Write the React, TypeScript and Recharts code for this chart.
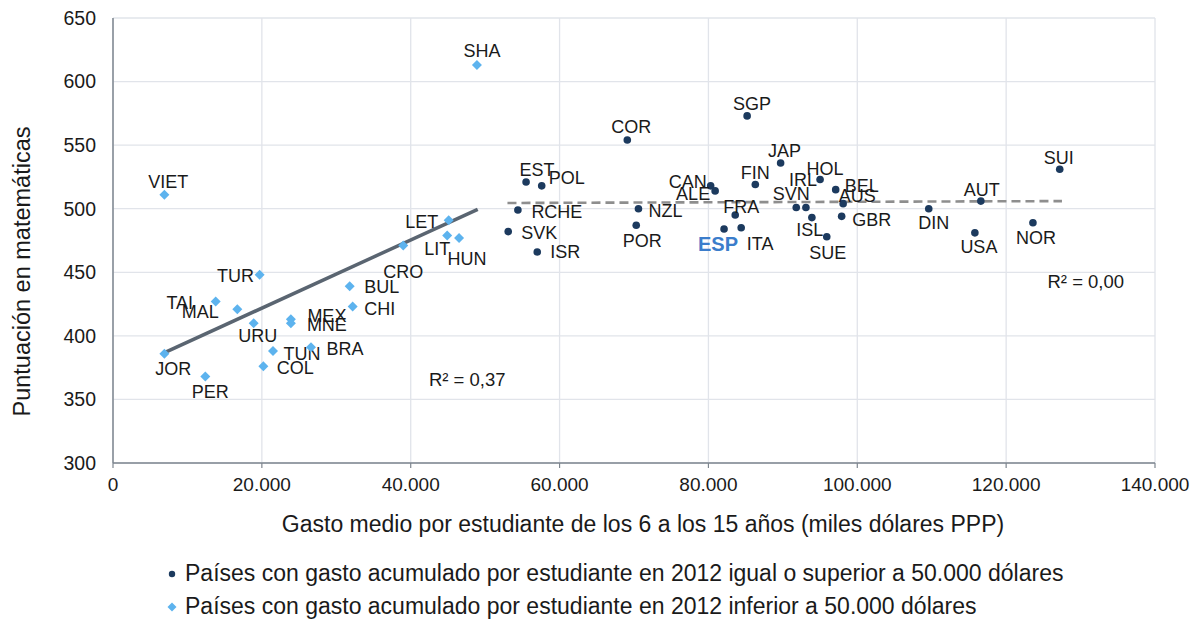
import React from "react";
import {
  ScatterChart, Scatter, XAxis, YAxis, CartesianGrid, ReferenceLine, ReferenceDot,
} from "recharts";

// countries with cumulative spend >= 50.000 $ (navy dots)
const HIGH_NAMES = [
  "COR", "SGP", "EST", "POL", "RCHE", "SVK", "ISR", "NZL", "POR", "CAN", "ALE", "FIN",
  "JAP", "HOL", "BEL", "AUS", "IRL", "SVN", "FRA", "ESP", "ITA", "ISL", "SUE", "GBR",
  "SUI", "AUT", "DIN", "USA", "NOR",
];
const HIGH_SPEND = [
  69100, 85200, 55500, 57600, 54400, 53100, 57000, 70600, 70300, 80300, 80900, 86300,
  89700, 95000, 97100, 98100, 93100, 91800, 83600, 82100, 84400, 93900, 95900, 97900,
  127200, 116600, 109600, 115800, 123600,
];
const HIGH_SCORE = [
  554, 573, 521, 518, 499, 482, 466, 500, 487, 518, 514, 519,
  536, 523, 515, 504, 501, 501, 495, 484, 485, 493, 478, 494,
  531, 506, 500, 481, 489,
];

// countries with cumulative spend < 50.000 $ (light blue diamonds)
const LOW_NAMES = [
  "VIET", "SHA", "LET", "LIT", "HUN", "CRO", "BUL", "CHI", "TUR", "TAI", "MAL",
  "URU", "MEX", "MNE", "TUN", "BRA", "COL", "JOR", "PER",
];
const LOW_SPEND = [
  6900, 48900, 45100, 44900, 46500, 39000, 31800, 32200, 19700, 13800, 16700,
  18900, 23900, 23900, 21500, 26600, 20200, 6900, 12400,
];
const LOW_SCORE = [
  511, 613, 491, 479, 477, 471, 439, 423, 448, 427, 421,
  410, 413, 410, 388, 391, 376, 386, 368,
];

// trend lines
const LOW_TREND = [{ x: 7000, y: 387 }, { x: 49000, y: 499.5 }];
const HIGH_TREND = [{ x: 53000, y: 504.5 }, { x: 127500, y: 506 }];

const X_TICKS = [0, 20000, 40000, 60000, 80000, 100000, 120000, 140000];
const Y_TICKS = [300, 350, 400, 450, 500, 550, 600, 650];

// label placement relative to the marker (text centre, px)
const LABEL_OFFSET: Record<string, [number, number]> = {
  VIET: [4, -13], SHA: [5, -14], LET: [-27, 2], LIT: [-10, 14], HUN: [8, 21],
  CRO: [0, 26], BUL: [32, 1], CHI: [27, 2], TUR: [-24, 1], TAI: [-36, 1],
  MAL: [-37, 3], URU: [4, 13], MEX: [36, -3], MNE: [36, 2], TUN: [29, 3],
  BRA: [34, 2], COL: [32, 2], JOR: [9, 15], PER: [5, 15],
  COR: [4, -13], SGP: [5, -12], EST: [11, -12], POL: [25, -8], RCHE: [39, 2],
  SVK: [31, 1], ISR: [28, 0], NZL: [27, 2], POR: [6, 16], CAN: [-23, -4],
  ALE: [-22, 3], FIN: [0, -12], JAP: [4, -12], HOL: [5, -10], BEL: [26, -4],
  AUS: [14, -8], IRL: [-3, -27], SVN: [-5, -13], FRA: [6, -8], ESP: [-6, 15],
  ITA: [19, 16], ISL: [-2, 12], SUE: [1, 16], GBR: [30, 4], SUI: [-1, -11],
  AUT: [1, -11], DIN: [5, 14], USA: [4, 14], NOR: [3, 15],
};

const NAVY = "#1c3a5e";
const LIGHT = "#5db3ee";
const GRID = "#e1e4ea";
const AXIS = "#7e868f";
const FONT = "'Liberation Sans', Arial, Helvetica, sans-serif";

const highData = HIGH_NAMES.map((name, i) => ({ name, x: HIGH_SPEND[i], y: HIGH_SCORE[i] }));
const lowData = LOW_NAMES.map((name, i) => ({ name, x: LOW_SPEND[i], y: LOW_SCORE[i] }));

const fmtThousands = (v: number) => String(v).replace(/\B(?=(\d{3})+(?!\d))/g, ".");

function PointLabel({ cx, cy, name }: { cx: number; cy: number; name: string }) {
  const [dx, dy] = LABEL_OFFSET[name] ?? [0, -12];
  const isEsp = name === "ESP";
  return (
    <text
      x={cx + dx}
      y={cy + dy}
      textAnchor="middle"
      dominantBaseline="central"
      fontFamily={FONT}
      fontSize={isEsp ? 20 : 18}
      fontWeight={isEsp ? 700 : 400}
      fill={isEsp ? "#3b7dcb" : "#1a1a1a"}
    >
      {name}
    </text>
  );
}

const dotShape = (props: any) => {
  const { cx, cy, payload } = props;
  return (
    <g>
      <circle cx={cx} cy={cy} r={3.8} fill={NAVY} />
      <PointLabel cx={cx} cy={cy} name={payload.name} />
    </g>
  );
};

const diamondShape = (props: any) => {
  const { cx, cy, payload } = props;
  const s = 5;
  return (
    <g>
      <path d={`M${cx},${cy - s} L${cx + s},${cy} L${cx},${cy + s} L${cx - s},${cy} Z`} fill={LIGHT} />
      <PointLabel cx={cx} cy={cy} name={payload.name} />
    </g>
  );
};

const YTitle = (props: any) => {
  const { viewBox } = props;
  const x = viewBox.x + 22;
  const y = viewBox.y + viewBox.height / 2 + 31;
  return (
    <text x={x} y={y} transform={`rotate(-90 ${x} ${y})`} textAnchor="middle" dominantBaseline="central"
      fontFamily={FONT} fontSize={23.5} fill="#1a1a1a">
      Puntuación en matemáticas
    </text>
  );
};

const XTitle = (props: any) => {
  const { viewBox } = props;
  return (
    <text x={viewBox.x + viewBox.width / 2 + 9} y={524} textAnchor="middle" dominantBaseline="central"
      fontFamily={FONT} fontSize={23} fill="#1a1a1a">
      Gasto medio por estudiante de los 6 a los 15 años (miles dólares PPP)
    </text>
  );
};

const LEGEND = [
  { label: "Países con gasto acumulado por estudiante en 2012 igual o superior a 50.000 dólares", kind: "dot" },
  { label: "Países con gasto acumulado por estudiante en 2012 inferior a 50.000 dólares", kind: "diamond" },
];

export default function App() {
  return (
    <div style={{ position: "absolute", left: 0, top: 0, width: 1198, height: 623, background: "#fff", fontFamily: FONT }}>
      <ScatterChart width={1198} height={623} margin={{ top: 18, right: 43, bottom: 80, left: 0 }}>
        <CartesianGrid stroke={GRID} strokeWidth={1.3} />
        <XAxis
          type="number" dataKey="x" domain={[0, 140000]} ticks={X_TICKS} allowDataOverflow
          tickFormatter={fmtThousands} height={80}
          tick={{ fontSize: 19, fill: "#1a1a1a", fontFamily: FONT }}
          tickSize={5} tickMargin={10}
          axisLine={{ stroke: AXIS, strokeWidth: 1.5 }} tickLine={{ stroke: AXIS, strokeWidth: 1.2 }}
          label={<XTitle />}
        />
        <YAxis
          type="number" dataKey="y" domain={[300, 650]} ticks={Y_TICKS} allowDataOverflow
          width={113}
          tick={{ fontSize: 19.5, fill: "#1a1a1a", fontFamily: FONT }}
          tickSize={0} tickMargin={17} tickLine={false}
          axisLine={{ stroke: AXIS, strokeWidth: 1.5 }}
          label={<YTitle />}
        />
        <ReferenceLine segment={LOW_TREND} stroke="#5a6571" strokeWidth={3.5} ifOverflow="visible" />
        <ReferenceLine segment={HIGH_TREND} stroke="#8e8e8e" strokeWidth={2.6} strokeDasharray="9 5" ifOverflow="visible" />
        <Scatter data={lowData} fill={LIGHT} shape={diamondShape} isAnimationActive={false} />
        <Scatter data={highData} fill={NAVY} shape={dotShape} isAnimationActive={false} />
        <ReferenceDot x={47600} y={365.5} r={0} fill="none" stroke="none" ifOverflow="visible"
          label={{ value: "R² = 0,37", position: "center", fontSize: 18.5, fill: "#1a1a1a", fontFamily: FONT }} />
        <ReferenceDot x={130700} y={442.5} r={0} fill="none" stroke="none" ifOverflow="visible"
          label={{ value: "R² = 0,00", position: "center", fontSize: 18.5, fill: "#1a1a1a", fontFamily: FONT }} />
      </ScatterChart>
      <div style={{ position: "absolute", left: 165, top: 557, fontSize: 23, color: "#1a1a1a", lineHeight: "33px" }}>
        {LEGEND.map((item) => (
          <div key={item.label} style={{ display: "flex", alignItems: "center", whiteSpace: "nowrap" }}>
            <svg width={14} height={14} style={{ marginRight: 6 }}>
              {item.kind === "dot"
                ? <circle cx={7} cy={7} r={3.2} fill={NAVY} />
                : <path d="M7,2.5 L11.5,7 L7,11.5 L2.5,7 Z" fill={LIGHT} />}
            </svg>
            <span>{item.label}</span>
          </div>
        ))}
      </div>
    </div>
  );
}
